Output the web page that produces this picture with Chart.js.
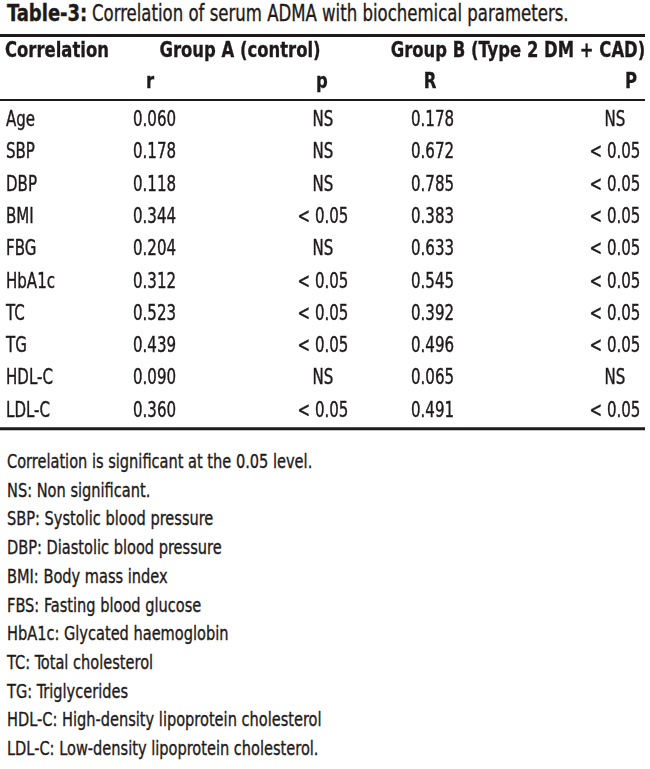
<!DOCTYPE html>
<html>
<head>
<meta charset="utf-8">
<script src="https://cdn.jsdelivr.net/npm/chart.js@4.4.1/dist/chart.umd.min.js"></script>
<style>
  body { margin: 0; background: #fff; width: 650px; height: 769px; overflow: hidden; position: relative;
         font-family: "DejaVu Sans Condensed", "Liberation Sans", sans-serif; color: #1e1a1b; }
  .sq { position: absolute; display: inline-block; white-space: nowrap; transform-origin: 0 0; -webkit-text-stroke: 0.35px #1e1a1b; }
  #titleBold { left: 7px; top: 1.5px; font-size: 23px; line-height: 23px; font-weight: bold; transform: scaleX(0.87); }
  #titleText { left: 92px; top: 1.5px; font-size: 23px; line-height: 23px; transform: scaleX(0.80); }
  #wrap { position: absolute; left: 0; top: 30px; width: 650px; height: 410px; }
  #notes { left: 7px; top: 447px; font-size: 20px; line-height: 28.7px; transform: scaleX(0.81); }
</style>
</head>
<body>
<div id="titleBold" class="sq">Table-3:</div>
<div id="titleText" class="sq">Correlation of serum ADMA with biochemical parameters.</div>
<div id="wrap"><canvas id="tableChart" width="650" height="410"></canvas></div>
<div id="notes" class="sq"></div>
<script>
// Table values
const parameters = ['Age', 'SBP', 'DBP', 'BMI', 'FBG', 'HbA1c', 'TC', 'TG', 'HDL-C', 'LDL-C'];
const groupAr = [0.060, 0.178, 0.118, 0.344, 0.204, 0.312, 0.523, 0.439, 0.090, 0.360];
const groupAp = ['NS', 'NS', 'NS', '< 0.05', 'NS', '< 0.05', '< 0.05', '< 0.05', 'NS', '< 0.05'];
const groupBR = [0.178, 0.672, 0.785, 0.383, 0.633, 0.545, 0.392, 0.496, 0.065, 0.491];
const groupBP = ['NS', '< 0.05', '< 0.05', '< 0.05', '< 0.05', '< 0.05', '< 0.05', '< 0.05', 'NS', '< 0.05'];
const groupHeaders = ['Correlation', 'Group A (control)', 'Group B (Type 2 DM + CAD)'];
const subHeaders = ['r', 'p', 'R', 'P'];
const footnotes = [
    'Correlation is significant at the 0.05 level.',
    'NS: Non significant.',
    'SBP: Systolic blood pressure',
    'DBP: Diastolic blood pressure',
    'BMI: Body mass index',
    'FBS: Fasting blood glucose',
    'HbA1c: Glycated haemoglobin',
    'TC: Total cholesterol',
    'TG: Triglycerides',
    'HDL-C: High-density lipoprotein cholesterol',
    'LDL-C: Low-density lipoprotein cholesterol.'
];

// Layout (x in page pixels, y in row units)
const FONT = '"DejaVu Sans Condensed", "Liberation Sans", sans-serif';
const INK = '#1e1a1b';
const bodyFont = { size: 22, squeeze: 0.76, stroke: 0.4 };
const headFont = { size: 21, squeeze: 0.87, stroke: 0.3 };
const colX = { label: 6, r: 133, p: 323, R: 411, P: 615 };
const headerX = { label: 5, groupA: 240, groupB: 518, r: 150, p: 322, R: 430, P: 631 };
const headerRowY = -2.135;
const subHeaderRowY = -1.175;
const ruleSpan = [0, 645];
const rules = [
    { y: -2.8, width: 3 },
    { y: -0.80, width: 2 },
    { y: 9.37, width: 3 }
];

document.getElementById('notes').innerHTML = footnotes.map(t => `<div>${t}</div>`).join('');

function column(texts, x, align) {
    return {
        data: texts.map((_, i) => ({ x: x, y: i })),
        texts: texts,
        align: align,
        bold: false,
        pointRadius: 0,
        pointHoverRadius: 0
    };
}

function headerCell(text, x, y, align) {
    return { data: [{ x: x, y: y }], texts: [text], align: align, bold: true, pointRadius: 0, pointHoverRadius: 0 };
}

const datasets = [
    column(parameters, colX.label, 'left'),
    column(groupAr.map(v => v.toFixed(3)), colX.r, 'left'),
    column(groupAp, colX.p, 'center'),
    column(groupBR.map(v => v.toFixed(3)), colX.R, 'left'),
    column(groupBP, colX.P, 'center'),
    headerCell(groupHeaders[0], headerX.label, headerRowY, 'left'),
    headerCell(groupHeaders[1], headerX.groupA, headerRowY, 'center'),
    headerCell(groupHeaders[2], headerX.groupB, headerRowY, 'center'),
    headerCell(subHeaders[0], headerX.r, subHeaderRowY, 'center'),
    headerCell(subHeaders[1], headerX.p, subHeaderRowY, 'center'),
    headerCell(subHeaders[2], headerX.R, subHeaderRowY, 'center'),
    headerCell(subHeaders[3], headerX.P, subHeaderRowY, 'center')
];

// Draws the rules and the text of every cell at its point position
const tablePlugin = {
    id: 'tablePlugin',
    afterDatasetsDraw(chart) {
        const ctx = chart.ctx;
        const x = chart.scales.x;
        const y = chart.scales.y;
        ctx.save();
        ctx.strokeStyle = INK;
        rules.forEach(r => {
            const py = y.getPixelForValue(r.y);
            ctx.lineWidth = r.width;
            ctx.beginPath();
            ctx.moveTo(x.getPixelForValue(ruleSpan[0]), py);
            ctx.lineTo(x.getPixelForValue(ruleSpan[1]), py);
            ctx.stroke();
        });
        ctx.fillStyle = INK;
        ctx.textBaseline = 'alphabetic';
        chart.data.datasets.forEach((ds, di) => {
            const meta = chart.getDatasetMeta(di);
            const f = ds.bold ? headFont : bodyFont;
            ctx.font = (ds.bold ? 'bold ' : '') + f.size + 'px ' + FONT;
            ctx.textAlign = ds.align;
            ctx.lineWidth = f.stroke;
            meta.data.forEach((pt, i) => {
                ctx.save();
                ctx.translate(pt.x, pt.y);
                ctx.scale(f.squeeze, 1);
                ctx.fillText(ds.texts[i], 0, 0);
                ctx.strokeText(ds.texts[i], 0, 0);
                ctx.restore();
            });
        });
        ctx.restore();
    }
};

new Chart(document.getElementById('tableChart').getContext('2d'), {
    type: 'scatter',
    data: { datasets: datasets },
    options: {
        responsive: false,
        animation: false,
        events: [],
        layout: { padding: 0 },
        plugins: { legend: { display: false }, tooltip: { enabled: false } },
        scales: {
            x: { type: 'linear', min: 0, max: 650, display: false },
            y: { type: 'linear', min: -2.97, max: 9.72, reverse: true, display: false }
        }
    },
    plugins: [tablePlugin]
});
</script>
</body>
</html>
